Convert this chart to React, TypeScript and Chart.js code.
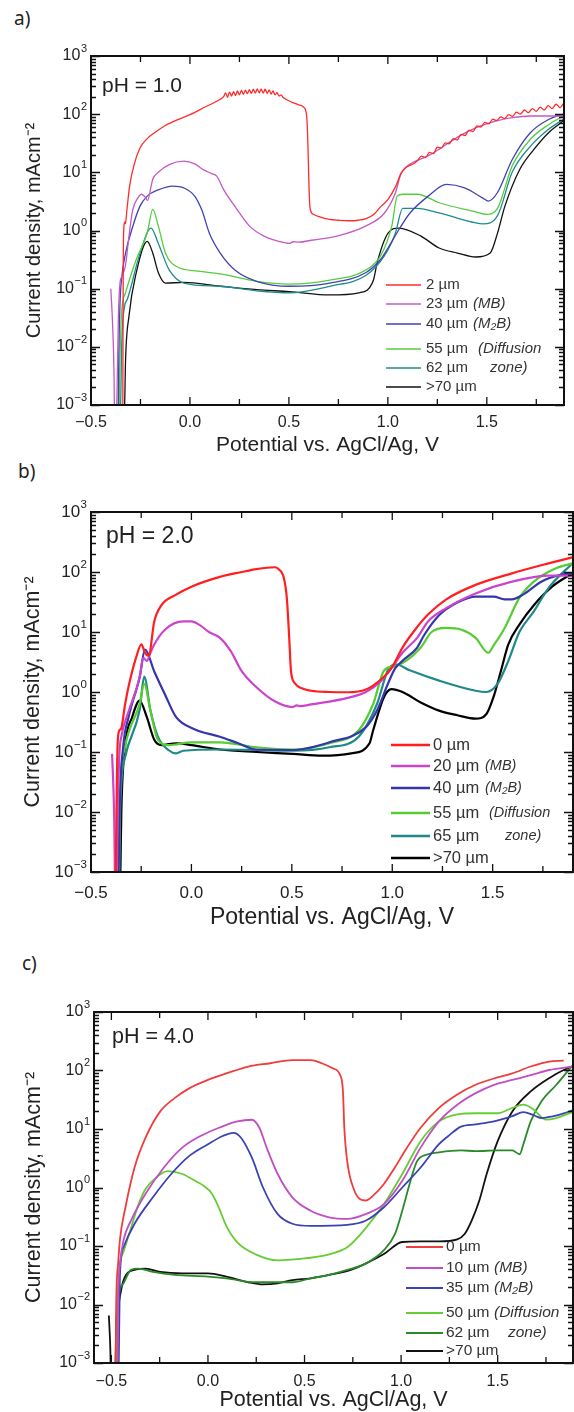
import React, { useEffect, useRef } from 'react';
import { Chart, registerables } from 'chart.js';

Chart.register(...registerables);

// ---------------- DATA ----------------
// Panel a) pH = 1.0
const A_2UM_X = [-0.340, -0.337, -0.334, -0.330, -0.326, -0.320, -0.305, -0.281, -0.253, -0.216, -0.179, -0.124, -0.068, 0.000, 0.079, 0.153,
  0.170, 0.180, 0.190, 0.200, 0.210, 0.220, 0.230, 0.240, 0.250, 0.260, 0.270, 0.280, 0.290, 0.300, 0.310, 0.320, 0.330, 0.340, 0.350, 0.360, 0.370, 0.380, 0.390, 0.400, 0.410, 0.420, 0.430, 0.440, 0.450, 0.460, 0.470,
  0.500, 0.520, 0.550, 0.577, 0.590, 0.595, 0.599, 0.603, 0.608, 0.623, 0.660, 0.706, 0.750, 0.800, 0.850, 0.890, 0.930, 0.960, 1.000, 1.040, 1.066, 1.090, 1.130,
  1.150, 1.170, 1.190, 1.210, 1.230, 1.250, 1.270, 1.290, 1.310, 1.330, 1.350, 1.370, 1.390, 1.410, 1.430, 1.450, 1.470, 1.490, 1.510, 1.530, 1.550, 1.570, 1.590, 1.610, 1.630, 1.650, 1.670, 1.690, 1.710, 1.730, 1.750, 1.770, 1.790, 1.810, 1.830, 1.850, 1.870, 1.886];
const A_2UM_Y = [0.0001, 0.3, 1.1, 1.4, 1.3, 2.0, 5.8, 14, 26, 38, 48, 64, 79, 98, 134, 180,
  200, 232, 195, 240, 205, 245, 210, 250, 215, 255, 220, 260, 225, 265, 228, 270, 230, 272, 232, 270, 230, 268, 228, 262, 222, 250, 215, 235, 205, 215, 195,
  170, 158, 145, 130, 90, 40, 12, 4, 2.3, 1.9, 1.7, 1.55, 1.5, 1.47, 1.5, 1.6, 1.9, 2.5, 3.4, 5.8, 9.5, 12, 14,
  16, 19, 18, 22, 21, 27, 26, 32, 31, 38, 36, 45, 43, 53, 50, 63, 60, 72, 68, 82, 78, 90, 84, 98, 92, 108, 100, 118, 106, 125, 112, 132, 118, 140, 125, 148, 130, 150];
const A_23UM_X = [-0.400, -0.392, -0.384, -0.378, -0.368, -0.362, -0.354, -0.345, -0.326, -0.308, -0.290, -0.262, -0.245, -0.228, -0.214, -0.200, -0.188, -0.160, -0.105, -0.031, 0.024, 0.070, 0.110, 0.135, 0.171, 0.227, 0.300, 0.374, 0.450, 0.503, 0.522, 0.550, 0.614, 0.743, 0.890, 0.983, 1.038, 1.066, 1.100, 1.200, 1.259, 1.350, 1.444, 1.540, 1.628, 1.720, 1.800, 1.886];
const A_23UM_Y = [0.10, 0.03, 0.004, 0.0001, 0.002, 0.03, 0.12, 0.16, 0.25, 0.8, 2.2, 3.7, 4.2, 3.8, 3.3, 5.0, 7.6, 10, 13.6, 15.6, 14, 11, 9.5, 8.6, 5, 2.6, 1.2, 0.8, 0.65, 0.6, 0.64, 0.63, 0.68, 0.8, 1.2, 2.0, 4.4, 9.5, 13, 19, 25, 40, 58, 75, 87, 93, 93, 93];
const A_40UM_X = [-0.365, -0.360, -0.354, -0.345, -0.326, -0.289, -0.253, -0.216, -0.160, -0.087, -0.031, 0.024, 0.061, 0.098, 0.153, 0.227, 0.337, 0.503, 0.706, 0.890, 0.964, 1.001, 1.056, 1.112, 1.204, 1.296, 1.388, 1.480, 1.508, 1.554, 1.628, 1.720, 1.812, 1.886];
const A_40UM_Y = [0.0001, 0.005, 0.05, 0.15, 0.4, 1.17, 2.6, 3.9, 5.0, 5.8, 5.4, 3.9, 2.2, 0.9, 0.41, 0.21, 0.134, 0.11, 0.125, 0.19, 0.32, 0.5, 1.04, 2.0, 3.9, 6.2, 5.4, 3.6, 3.2, 4.5, 16.5, 48, 81, 100];
const A_55UM_X = [-0.360, -0.354, -0.345, -0.326, -0.271, -0.216, -0.188, -0.160, -0.124, -0.068, 0.042, 0.153, 0.337, 0.503, 0.706, 0.890, 0.964, 1.020, 1.047, 1.075, 1.149, 1.259, 1.444, 1.499, 1.554, 1.628, 1.720, 1.812, 1.886];
const A_55UM_Y = [0.0001, 0.005, 0.04, 0.084, 0.32, 0.9, 2.3, 1.2, 0.41, 0.24, 0.2, 0.18, 0.134, 0.12, 0.14, 0.21, 0.37, 1.2, 3.9, 4.2, 4.2, 3.0, 2.1, 1.9, 2.4, 12.8, 37, 66, 93];
const A_62UM_X = [-0.355, -0.345, -0.330, -0.317, -0.253, -0.197, -0.160, -0.105, -0.031, 0.153, 0.337, 0.503, 0.706, 0.890, 0.983, 1.038, 1.075, 1.149, 1.259, 1.444, 1.480, 1.554, 1.628, 1.720, 1.812, 1.886];
const A_62UM_Y = [0.0001, 0.01, 0.05, 0.065, 0.4, 1.1, 0.6, 0.21, 0.125, 0.11, 0.092, 0.085, 0.11, 0.17, 0.37, 0.9, 2.4, 2.4, 2.0, 1.35, 1.3, 1.8, 10, 28, 55, 81];
const A_70UM_X = [-0.335, -0.326, -0.308, -0.271, -0.216, -0.188, -0.160, -0.124, -0.031, 0.153, 0.337, 0.503, 0.706, 0.854, 0.927, 0.946, 1.001, 1.056, 1.167, 1.259, 1.351, 1.444, 1.517, 1.554, 1.591, 1.665, 1.739, 1.812, 1.886];
const A_70UM_Y = [0.0001, 0.005, 0.034, 0.19, 0.65, 0.41, 0.19, 0.125, 0.128, 0.11, 0.096, 0.089, 0.078, 0.085, 0.14, 0.28, 0.9, 1.1, 0.8, 0.5, 0.41, 0.35, 0.41, 0.9, 2.6, 11, 25, 48, 76];

// Panel b) pH = 2.0
const B_0UM_X = [-0.380, -0.372, -0.367, -0.358, -0.349, -0.331, -0.313, -0.276, -0.249, -0.231, -0.213, -0.185, -0.149, -0.076, 0.000, 0.142, 0.251, 0.324, 0.415, 0.433, 0.460, 0.475, 0.487, 0.496, 0.515, 0.550, 0.596, 0.687, 0.778, 0.869, 0.942, 0.996, 1.051, 1.105, 1.178, 1.269, 1.415, 1.596, 1.778, 1.896];
const B_0UM_Y = [0.0001, 0.02, 0.15, 0.23, 0.25, 0.6, 1.23, 3.7, 6.2, 4.5, 4.0, 15, 28, 42, 57, 83, 100, 112, 120, 112, 80, 37, 8, 2.2, 1.4, 1.15, 1.05, 1.0, 0.99, 1.1, 1.6, 2.5, 5.5, 10, 19.5, 35, 61, 95, 139, 175];
const B_20UM_X = [-0.395, -0.385, -0.376, -0.367, -0.358, -0.349, -0.313, -0.258, -0.240, -0.222, -0.204, -0.185, -0.131, -0.040, 0.000, 0.042, 0.087, 0.142, 0.196, 0.251, 0.324, 0.415, 0.505, 0.524, 0.542, 0.596, 0.778, 0.869, 0.942, 0.996, 1.051, 1.124, 1.178, 1.269, 1.415, 1.596, 1.778, 1.896];
const B_20UM_Y = [0.093, 0.01, 0.0001, 0.01, 0.1, 0.18, 0.47, 1.74, 3.7, 3.3, 4.5, 6.2, 11, 15, 15, 13, 10, 8, 4.8, 2.2, 1.2, 0.7, 0.56, 0.6, 0.58, 0.62, 0.8, 1.0, 1.5, 2.5, 4.5, 8, 15, 25, 44, 69, 87, 87];
const B_40UM_X = [-0.367, -0.358, -0.340, -0.313, -0.258, -0.231, -0.185, -0.131, -0.076, 0.015, 0.142, 0.233, 0.324, 0.505, 0.687, 0.869, 0.924, 0.978, 1.015, 1.051, 1.124, 1.160, 1.233, 1.324, 1.415, 1.505, 1.560, 1.596, 1.651, 1.742, 1.833, 1.896];
const B_40UM_Y = [0.0001, 0.01, 0.12, 0.38, 1.74, 5.1, 2.2, 0.9, 0.38, 0.24, 0.18, 0.14, 0.11, 0.108, 0.145, 0.26, 0.49, 1.36, 2.5, 3.3, 5.5, 9, 19, 31, 39, 39, 35, 35, 42, 69, 89, 95];
const B_55UM_X = [-0.365, -0.358, -0.331, -0.258, -0.235, -0.204, -0.167, -0.113, 0.000, 0.142, 0.324, 0.505, 0.687, 0.833, 0.905, 0.960, 1.015, 1.069, 1.142, 1.196, 1.269, 1.342, 1.415, 1.478, 1.505, 1.560, 1.633, 1.705, 1.815, 1.896];
const B_55UM_Y = [0.0001, 0.01, 0.12, 0.63, 1.36, 0.49, 0.16, 0.13, 0.145, 0.145, 0.12, 0.11, 0.14, 0.23, 0.63, 2.3, 2.7, 3.3, 5.5, 10, 11.7, 11, 8, 4.5, 6, 11.7, 37, 69, 115, 139];
const B_65UM_X = [-0.362, -0.355, -0.331, -0.258, -0.235, -0.204, -0.167, -0.113, -0.076, -0.040, 0.142, 0.324, 0.505, 0.687, 0.833, 0.924, 0.978, 1.015, 1.087, 1.233, 1.415, 1.469, 1.524, 1.578, 1.633, 1.705, 1.778, 1.896];
const B_65UM_Y = [0.0001, 0.01, 0.08, 0.5, 1.8, 0.49, 0.18, 0.107, 0.095, 0.105, 0.11, 0.108, 0.105, 0.12, 0.18, 0.63, 2.3, 2.9, 2.3, 1.55, 1.05, 1.0, 1.36, 3.3, 10, 22, 54, 139];
const B_70UM_X = [-0.358, -0.349, -0.331, -0.295, -0.258, -0.222, -0.185, -0.149, -0.076, 0.000, 0.142, 0.324, 0.505, 0.651, 0.796, 0.887, 0.905, 0.960, 0.996, 1.051, 1.142, 1.233, 1.324, 1.415, 1.469, 1.505, 1.542, 1.578, 1.633, 1.705, 1.796, 1.896];
const B_70UM_Y = [0.0001, 0.01, 0.12, 0.38, 0.72, 0.38, 0.16, 0.13, 0.14, 0.13, 0.11, 0.1, 0.093, 0.087, 0.095, 0.14, 0.23, 0.84, 1.12, 1.0, 0.67, 0.49, 0.41, 0.36, 0.43, 0.84, 2.3, 6.2, 13.3, 28, 57, 95];

// Panel c) pH = 4.0
const C_0UM_X = [-0.480, -0.475, -0.465, -0.456, -0.427, -0.380, -0.323, -0.247, -0.171, -0.095, 0.000, 0.095, 0.209, 0.323, 0.437, 0.532, 0.589, 0.646, 0.684, 0.699, 0.706, 0.721, 0.759, 0.788, 0.816, 0.854, 0.911, 0.968, 1.025, 1.101, 1.196, 1.291, 1.386, 1.481, 1.576, 1.671, 1.766, 1.842];
const C_0UM_Y = [0.0001, 0.01, 0.05, 0.126, 0.46, 2.2, 7.1, 20, 34, 50, 69, 89, 117, 133, 151, 151, 133, 109, 84, 44, 10.5, 2.8, 0.87, 0.63, 0.6, 0.72, 1.15, 2.2, 4.5, 10.5, 23, 39, 57, 73, 89, 117, 142, 148];
const C_10UM_X = [-0.470, -0.465, -0.455, -0.437, -0.399, -0.323, -0.228, -0.133, -0.038, 0.057, 0.152, 0.228, 0.266, 0.304, 0.361, 0.437, 0.532, 0.627, 0.721, 0.816, 0.911, 1.006, 1.101, 1.196, 1.291, 1.386, 1.481, 1.576, 1.671, 1.766, 1.889];
const C_10UM_Y = [0.0001, 0.01, 0.05, 0.126, 0.27, 0.78, 2.2, 4.8, 7.6, 10.5, 13.5, 14.4, 10.5, 4.8, 1.7, 0.68, 0.4, 0.31, 0.29, 0.35, 0.52, 1.3, 4.8, 13.5, 26, 41, 57, 69, 83, 102, 117];
const C_35UM_X = [-0.465, -0.456, -0.437, -0.380, -0.285, -0.190, -0.095, 0.000, 0.076, 0.133, 0.171, 0.228, 0.285, 0.361, 0.437, 0.532, 0.721, 0.816, 0.911, 1.006, 1.101, 1.196, 1.253, 1.310, 1.386, 1.481, 1.576, 1.633, 1.690, 1.728, 1.785, 1.842, 1.889];
const C_35UM_Y = [0.0001, 0.03, 0.096, 0.24, 0.68, 1.7, 3.5, 5.5, 7.6, 8.6, 7.1, 3.2, 1.0, 0.35, 0.24, 0.22, 0.23, 0.27, 0.46, 1.0, 2.2, 5.5, 8, 11, 12, 13.5, 16.6, 19.5, 17, 15.4, 16.5, 18.5, 21];
const C_50UM_X = [-0.478, -0.465, -0.437, -0.399, -0.361, -0.323, -0.266, -0.209, -0.133, -0.057, -0.019, 0.019, 0.057, 0.095, 0.152, 0.247, 0.361, 0.475, 0.627, 0.721, 0.816, 0.911, 1.006, 1.101, 1.196, 1.291, 1.386, 1.500, 1.576, 1.633, 1.690, 1.747, 1.804, 1.889];
const C_50UM_Y = [0.0001, 0.02, 0.08, 0.2, 0.5, 0.94, 1.5, 1.9, 1.7, 1.25, 1.05, 0.8, 0.45, 0.22, 0.115, 0.072, 0.057, 0.06, 0.072, 0.095, 0.2, 0.52, 1.7, 6.2, 13.5, 17.8, 18.6, 18.6, 23, 26, 21, 14.5, 15.4, 19.5];
const C_62UM_X = [-0.484, -0.475, -0.456, -0.437, -0.399, -0.361, -0.285, -0.171, 0.000, 0.095, 0.247, 0.437, 0.532, 0.627, 0.721, 0.816, 0.911, 0.968, 1.006, 1.044, 1.082, 1.139, 1.196, 1.310, 1.386, 1.500, 1.576, 1.614, 1.633, 1.671, 1.728, 1.804, 1.889];
const C_62UM_Y = [0.0001, 0.005, 0.018, 0.023, 0.039, 0.041, 0.036, 0.032, 0.030, 0.028, 0.024, 0.024, 0.028, 0.032, 0.039, 0.05, 0.085, 0.16, 0.4, 1.15, 2.8, 3.7, 4.0, 4.3, 4.2, 4.3, 4.3, 3.7, 5.5, 13.5, 30, 57, 124];
const C_70UM_X = [-0.513, -0.510, -0.505, -0.500, -0.482, -0.475, -0.465, -0.437, -0.380, -0.323, -0.247, -0.133, 0.000, 0.095, 0.209, 0.285, 0.361, 0.437, 0.532, 0.627, 0.740, 0.816, 0.911, 1.006, 1.101, 1.196, 1.291, 1.329, 1.367, 1.405, 1.443, 1.500, 1.576, 1.671, 1.766, 1.842, 1.889];
const C_70UM_Y = [0.0065, 0.004, 0.0015, 0.0001, 0.0001, 0.004, 0.009, 0.026, 0.039, 0.041, 0.036, 0.034, 0.034, 0.030, 0.024, 0.022, 0.023, 0.026, 0.028, 0.032, 0.039, 0.05, 0.073, 0.117, 0.12, 0.12, 0.13, 0.16, 0.28, 0.6, 1.7, 6.2, 20, 44, 74, 102, 117];

// Labels / ticks
const A_LABELS = ['2 µm', '23 µm', '40 µm', '55 µm', '62 µm', '>70 µm'];
const B_LABELS = ['0 µm', '20 µm', '40 µm', '55 µm', '65 µm', '>70 µm'];
const C_LABELS = ['0 µm', '10 µm', '35 µm', '50 µm', '62 µm', '>70 µm'];
const NOTES = ['', '(MB)', '(M\u2082B)', '(Diffusion', 'zone)', ''];
const PH_LABELS = ['pH = 1.0', 'pH = 2.0', 'pH = 4.0'];
const PANEL_LETTERS = ['a)', 'b)', 'c)'];
const X_TICK_VALUES = [-0.5, 0, 0.5, 1.0, 1.5];
const Y_DECADES = [-3, -2, -1, 0, 1, 2, 3];
const X_TITLE = 'Potential vs. AgCl/Ag, V';
const Y_TITLE = 'Current density, mAcm\u207B\u00B2';

// ---------------- STYLE / LAYOUT ----------------
const FONT = '"Liberation Sans", Arial, Helvetica, sans-serif';
const W = 574;

type Legend = { rows: number[]; x1: number; x2: number; tx: number; size: number; noteSize: number; noteX: number; diffX: number; zoneX: number; lw: number };
type PanelCfg = {
  key: string; top: number; h: number;
  area: { top: number; bottom: number; left: number; right: number };
  xMin: number; xMax: number; lw: number;
  tickSize: number; expSize: number; tickLabelY: number; yLabelGap: number;
  xTitleSize: number; xTitleCenter: number; yTitleSize: number; yTitleCx: number;
  ph: string; phSize: number; phX: number; phY: number;
  legend: Legend; labels: string[]; colors: string[];
  series: [number[], number[]][];
};

const PANELS: PanelCfg[] = [
  {
    key: 'a', top: 40, h: 430,
    area: { top: 56, bottom: 405, left: 91, right: 564 },
    xMin: -0.5, xMax: 1.89, lw: 1.3,
    tickSize: 16, expSize: 11, tickLabelY: 423, yLabelGap: 4,
    xTitleSize: 21, xTitleCenter: 445, yTitleSize: 20, yTitleCx: 34,
    ph: PH_LABELS[0], phSize: 21, phX: 102, phY: 86,
    legend: { rows: [285, 304, 324, 349, 368, 387], x1: 386, x2: 421, tx: 426, size: 15, noteSize: 15, noteX: 473, diffX: 478, zoneX: 490, lw: 1.6 },
    labels: A_LABELS,
    colors: ['#ff2b2b', '#c25ac6', '#4242b4', '#55cc3c', '#1f8c8c', '#111111'],
    series: [[A_2UM_X, A_2UM_Y], [A_23UM_X, A_23UM_Y], [A_40UM_X, A_40UM_Y], [A_55UM_X, A_55UM_Y], [A_62UM_X, A_62UM_Y], [A_70UM_X, A_70UM_Y]],
  },
  {
    key: 'b', top: 495, h: 440,
    area: { top: 512, bottom: 872, left: 91, right: 573 },
    xMin: -0.5, xMax: 1.9, lw: 2.2,
    tickSize: 17, expSize: 11.5, tickLabelY: 893, yLabelGap: 4,
    xTitleSize: 23, xTitleCenter: 918, yTitleSize: 21.5, yTitleCx: 33,
    ph: PH_LABELS[1], phSize: 23, phX: 106, phY: 537,
    legend: { rows: [745, 766, 788, 813, 836, 858], x1: 391, x2: 430, tx: 433, size: 16.5, noteSize: 14.5, noteX: 485, diffX: 489, zoneX: 505, lw: 2.5 },
    labels: B_LABELS,
    colors: ['#ff1f1f', '#cc44cc', '#3535ad', '#55cc30', '#208888', '#000000'],
    series: [[B_0UM_X, B_0UM_Y], [B_20UM_X, B_20UM_Y], [B_40UM_X, B_40UM_Y], [B_55UM_X, B_55UM_Y], [B_65UM_X, B_65UM_Y], [B_70UM_X, B_70UM_Y]],
  },
  {
    key: 'c', top: 995, h: 417,
    area: { top: 1012, bottom: 1363, left: 94, right: 573 },
    xMin: -0.59, xMax: 1.89, lw: 1.8,
    tickSize: 16, expSize: 11, tickLabelY: 1382, yLabelGap: 4,
    xTitleSize: 21.5, xTitleCenter: 1400, yTitleSize: 21.5, yTitleCx: 34,
    ph: PH_LABELS[2], phSize: 21.5, phX: 112, phY: 1037,
    legend: { rows: [1247, 1268, 1288, 1313, 1333, 1351], x1: 406, x2: 443, tx: 446, size: 15.5, noteSize: 15.5, noteX: 494, diffX: 494, zoneX: 508, lw: 1.8 },
    labels: C_LABELS,
    colors: ['#f03c3c', '#c04ec4', '#3b42b4', '#66cc33', '#2a8a2a', '#111111'],
    series: [[C_0UM_X, C_0UM_Y], [C_10UM_X, C_10UM_Y], [C_35UM_X, C_35UM_Y], [C_50UM_X, C_50UM_Y], [C_62UM_X, C_62UM_Y], [C_70UM_X, C_70UM_Y]],
  },
];

function decoPlugin(cfg: PanelCfg) {
  return {
    id: 'deco_' + cfg.key,
    afterDraw(chart: any) {
      const ctx: CanvasRenderingContext2D = chart.ctx;
      const { left, right, top, bottom } = chart.chartArea;
      const xs = chart.scales.x;
      const ys = chart.scales.y;
      const off = cfg.top;
      ctx.save();
      // inward ticks
      ctx.strokeStyle = '#111';
      ctx.lineWidth = 1.3;
      ctx.beginPath();
      const start = Math.ceil(cfg.xMin / 0.25 - 1e-9) * 0.25;
      for (let i = 0; start + i * 0.25 <= cfg.xMax + 1e-9; i++) {
        const v = start + i * 0.25;
        const px = xs.getPixelForValue(v);
        const major = Math.abs(v * 2 - Math.round(v * 2)) < 1e-6;
        const len = major ? 8 : 6;
        ctx.moveTo(px, bottom); ctx.lineTo(px, bottom - len);
        ctx.moveTo(px, top); ctx.lineTo(px, top + len);
      }
      for (let k = -3; k <= 3; k++) {
        for (let m = 1; m <= 9; m++) {
          const val = m * Math.pow(10, k);
          if (val > 1000.0001) break;
          const py = Math.round(ys.getPixelForValue(val)) + 0.5;
          const len = m === 1 ? 9 : 5;
          ctx.moveTo(left, py); ctx.lineTo(left + len, py);
          ctx.moveTo(right, py); ctx.lineTo(right - len, py);
        }
      }
      ctx.stroke();
      ctx.lineWidth = 2;
      ctx.strokeRect(left, top, right - left, bottom - top);

      // x tick labels
      ctx.fillStyle = '#222';
      ctx.textBaseline = 'middle';
      ctx.textAlign = 'center';
      ctx.font = `${cfg.tickSize}px ${FONT}`;
      X_TICK_VALUES.forEach((v) => {
        if (v < cfg.xMin - 1e-9 || v > cfg.xMax + 1e-9) return;
        const t = (v < 0 ? '\u2212' : '') + Math.abs(v).toFixed(1);
        ctx.fillText(t, xs.getPixelForValue(v), cfg.tickLabelY - off);
      });
      // y tick labels 10^k
      ctx.textAlign = 'left';
      Y_DECADES.forEach((k) => {
        const py = ys.getPixelForValue(Math.pow(10, k));
        const exp = k < 0 ? '\u2212' + -k : String(k);
        ctx.font = `${cfg.expSize}px ${FONT}`;
        const we = ctx.measureText(exp).width;
        ctx.font = `${cfg.tickSize}px ${FONT}`;
        const wb = ctx.measureText('10').width;
        const xr = left - cfg.yLabelGap;
        ctx.fillText('10', xr - we - wb - 0.5, py);
        ctx.font = `${cfg.expSize}px ${FONT}`;
        ctx.fillText(exp, xr - we, py - cfg.tickSize * 0.45);
      });
      // pH label
      ctx.font = `${cfg.phSize}px ${FONT}`;
      ctx.fillText(cfg.ph, cfg.phX, cfg.phY - off);
      // legend
      const L = cfg.legend;
      cfg.labels.forEach((lab, i) => {
        const y = L.rows[i] - off;
        ctx.strokeStyle = cfg.colors[i];
        ctx.lineWidth = L.lw;
        ctx.beginPath();
        ctx.moveTo(L.x1, y); ctx.lineTo(L.x2, y);
        ctx.stroke();
        ctx.fillStyle = '#333';
        ctx.font = `${L.size}px ${FONT}`;
        ctx.fillText(lab, L.tx, y);
        const note = NOTES[i];
        if (note) {
          ctx.font = `italic ${L.noteSize}px ${FONT}`;
          const nx = i === 3 ? L.diffX : i === 4 ? L.zoneX : L.noteX;
          ctx.fillText(note, nx, y);
        }
      });
      ctx.restore();
    },
  };
}

function buildConfig(cfg: PanelCfg): any {
  const padTop = cfg.area.top - cfg.top;
  const padRight = W - cfg.area.right;
  const yW = cfg.area.left;
  const xH = cfg.top + cfg.h - cfg.area.bottom;
  const xTitlePadBottom = Math.max(0, cfg.top + cfg.h - cfg.xTitleCenter - cfg.xTitleSize / 2);
  const yTitlePadTop = Math.max(0, cfg.yTitleCx - cfg.yTitleSize / 2);
  return {
    type: 'line',
    data: {
      datasets: cfg.series.map(([xsArr, ysArr], i) => ({
        label: cfg.labels[i],
        data: xsArr.map((x, j) => ({ x, y: ysArr[j] })),
        borderColor: cfg.colors[i],
        backgroundColor: cfg.colors[i],
        borderWidth: cfg.lw,
        pointRadius: 0,
        pointHoverRadius: 0,
        fill: false,
        cubicInterpolationMode: 'monotone',
      })),
    },
    options: {
      responsive: false,
      animation: false,
      devicePixelRatio: 1,
      events: [],
      layout: { padding: { top: padTop, right: padRight, left: 0, bottom: 0 } },
      plugins: { legend: { display: false }, tooltip: { enabled: false } },
      scales: {
        x: {
          type: 'linear', position: 'bottom', min: cfg.xMin, max: cfg.xMax,
          grid: { display: false }, border: { display: false },
          ticks: { display: false },
          title: { display: true, text: X_TITLE, color: '#222', font: { family: FONT, size: cfg.xTitleSize, lineHeight: 1 }, padding: { top: 0, bottom: xTitlePadBottom } },
          afterFit: (s: any) => { s.height = xH; },
        },
        y: {
          type: 'logarithmic', position: 'left', min: 1e-3, max: 1e3,
          grid: { display: false }, border: { display: false },
          ticks: { display: false },
          title: { display: true, text: Y_TITLE, color: '#222', font: { family: FONT, size: cfg.yTitleSize, lineHeight: 1 }, padding: { top: yTitlePadTop, bottom: 0 } },
          afterFit: (s: any) => { s.width = yW; },
        },
      },
    },
    plugins: [decoPlugin(cfg)],
  };
}

function PanelChart({ cfg }: { cfg: PanelCfg }) {
  const ref = useRef<HTMLCanvasElement | null>(null);
  useEffect(() => {
    const canvas = ref.current;
    if (!canvas) return;
    const chart = new Chart(canvas, buildConfig(cfg));
    return () => chart.destroy();
  }, [cfg]);
  return (
    <canvas
      ref={ref}
      width={W}
      height={cfg.h}
      style={{ position: 'absolute', left: 0, top: cfg.top, width: W, height: cfg.h, display: 'block' }}
    />
  );
}

const LETTER_POS = [
  { left: 14, top: 5 },
  { left: 18, top: 458 },
  { left: 22, top: 950 },
];

export default function App() {
  return (
    <div style={{ position: 'absolute', left: 0, top: 0, width: W, height: 1412, background: '#fff', overflow: 'hidden' }}>
      {PANEL_LETTERS.map((t, i) => (
        <div
          key={t}
          style={{
            position: 'absolute', left: LETTER_POS[i].left, top: LETTER_POS[i].top,
            font: '19px "Noto Sans", "Open Sans", sans-serif', lineHeight: '26px', color: '#222',
          }}
        >
          {t}
        </div>
      ))}
      {PANELS.map((p) => (
        <PanelChart key={p.key} cfg={p} />
      ))}
    </div>
  );
}
